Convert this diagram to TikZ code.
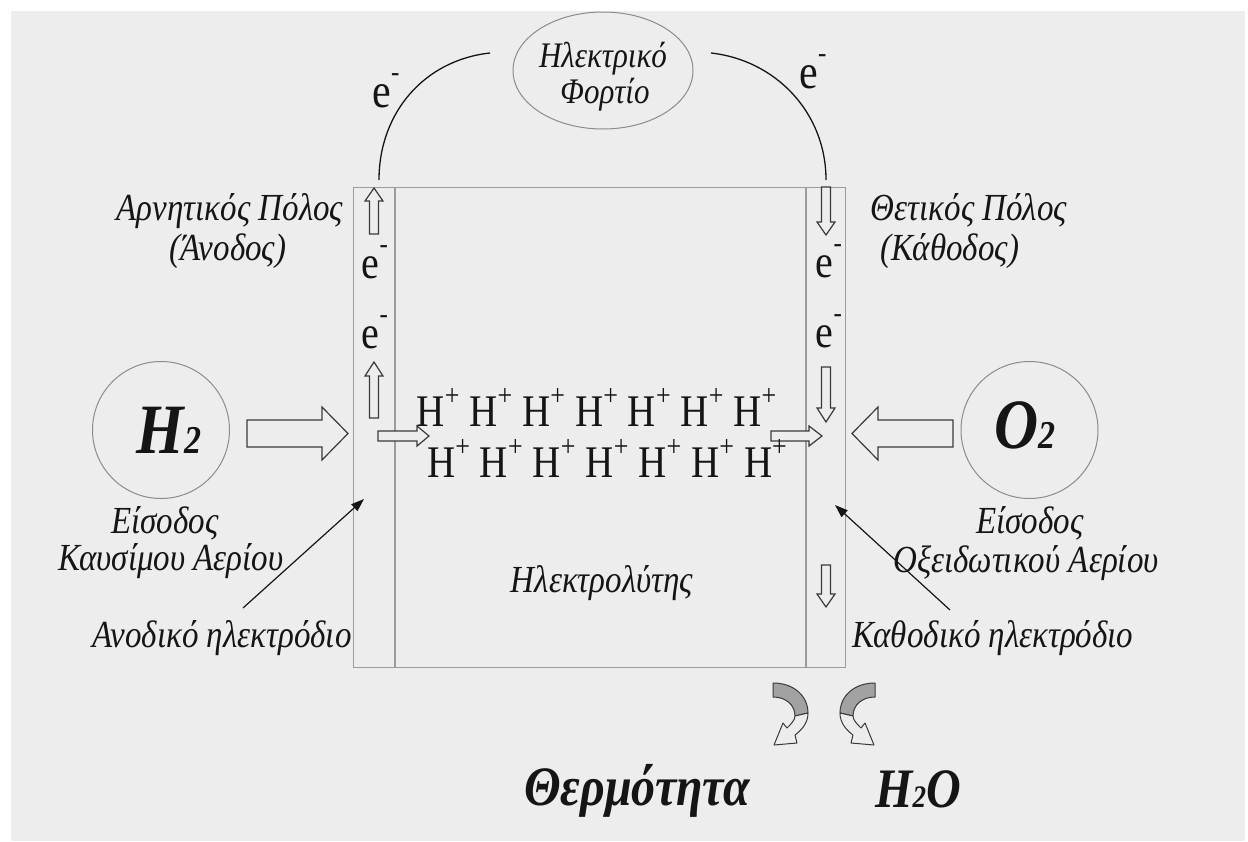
\documentclass[tikz,border=0pt]{standalone}
\usepackage{fontspec}
\setmainfont{Liberation Serif}
\usepackage{graphicx}
\usetikzlibrary{arrows.meta,shapes.geometric}
\definecolor{bg}{HTML}{EDEDED}
\definecolor{frame}{HTML}{9C9C9C}
\definecolor{ring}{HTML}{8C8C8C}
\definecolor{ink}{HTML}{151515}
\definecolor{arrline}{HTML}{3A3A3A}
\definecolor{curvegrey}{HTML}{A2A2A2}
\newcommand{\vst}[1]{\scalebox{1}[1.16]{#1}}
\newcommand{\Hp}{H\raisebox{18pt}{\fontsize{26}{26}\selectfont +}}
\newcommand{\Hrow}{\Hp\hspace{10pt}\Hp\hspace{10pt}\Hp\hspace{10pt}\Hp\hspace{10pt}\Hp\hspace{10pt}\Hp\hspace{10pt}\Hp}
\newcommand{\elec}[1]{e\raisebox{#1}{\fontsize{25}{25}\selectfont -}}
\tikzset{
  lbl/.style={font=\fontsize{33}{36}\selectfont\itshape, text=ink, inner sep=0pt, anchor=base},
  lblsmall/.style={font=\fontsize{31}{36}\selectfont\itshape, text=ink, inner sep=0pt, anchor=base},
  charge/.style={font=\fontsize{40}{44}\selectfont, text=ink, inner sep=0pt, anchor=base},
  ion/.style={font=\fontsize{39}{40}\selectfont, text=ink, inner sep=0pt, anchor=base},
  big/.style={text=ink, inner sep=0pt, anchor=base},
  arrowst/.style={draw=arrline, fill=bg, line width=1.2pt, line join=miter},
  wire/.style={draw=ink, line width=1.3pt},
  pointer/.style={draw=ink, line width=1.2pt, -{Triangle[length=13pt,width=9pt]}},
  pics/barr/.style n args={4}{code={
    \draw[arrowst] (0,-#2) -- ({#1-#4},-#2) -- ({#1-#4},-#3) -- (#1,0) -- ({#1-#4},#3) -- ({#1-#4},#2) -- (0,#2) -- cycle;
  }},
  pics/curvarr/.style={code={
    \draw[draw=arrline, fill=curvegrey, line width=1pt, line join=round]
      (773,683) .. controls (795,683) and (808,697) .. (808,713)
      -- (795,716) .. controls (795,705) and (786,697) .. (773,697) -- cycle;
    \draw[draw=arrline, fill=bg, line width=1pt, line join=round]
      (808,713) .. controls (808,722) and (803,729) .. (795,735)
      -- (797,743) -- (774,745) -- (783,723) -- (787,728)
      .. controls (791,724) and (795,720) .. (795,716) -- cycle;
  }}
}
\begin{document}
\begin{tikzpicture}[x=1pt,y=-1pt]
\useasboundingbox (0,0) rectangle (1248,841);
\fill[white] (0,0) rectangle (1248,841);
\fill[bg] (11,11) rectangle (1245,841);

% fuel cell body
\node[draw=frame, line width=1.3pt, minimum width=492pt, minimum height=480pt, anchor=north west, inner sep=0pt] (cell) at (353,187) {};
\draw[frame, line width=1.3pt] (395,187) coordinate (anT) -- (395,667) coordinate (anB);
\draw[frame, line width=1.3pt] (806,187) coordinate (caT) -- (806,667) coordinate (caB);

% load
\node[ellipse, draw=ring, line width=1pt, minimum width=180pt, minimum height=117pt, inner sep=0pt] (load) at (603,70.5) {};
\node[lblsmall] (load1) at (603,67) {\vst{Ηλεκτρικό}};
\node[lblsmall] (load2) at (605,103) {\vst{Φορτίο}};

% external circuit
\coordinate (wL) at (379,180);
\coordinate (wLe) at (490,53);
\coordinate (wRs) at (711,53);
\coordinate (wR) at (826,180);
\draw[wire] (wL) .. controls (379,112) and (425,60) .. (wLe);
\draw[wire] (wRs) .. controls (775,60) and (826,112) .. (wR);
\node[charge, font=\fontsize{42}{44}\selectfont] (eTL) at (386,107) {\vst{\elec{22pt}}};
\node[charge, font=\fontsize{42}{44}\selectfont] (eTR) at (813,88) {\vst{\elec{22pt}}};

% electrons in electrodes
\node[charge] (eL1) at (375,278) {\vst{\elec{21pt}}};
\node[charge] (eL2) at (375,348) {\vst{\elec{21pt}}};
\node[charge] (eR1) at (829,277) {\vst{\elec{21pt}}};
\node[charge] (eR2) at (829,347) {\vst{\elec{21pt}}};

\pic[rotate=90] at (374,234) {barr={46}{4.5}{9}{13}};
\pic[rotate=90] at (374,418) {barr={56}{4.5}{9}{14}};
\pic[rotate=-90] at (826,187) {barr={48}{4.5}{9}{13}};
\pic[rotate=-90] at (826,367) {barr={55}{4.5}{9}{14}};
\pic[rotate=-90] at (826,565) {barr={42}{4.5}{9}{13}};
\pic at (378,436) {barr={51}{5}{10}{12}};
\pic at (771,436) {barr={51}{5}{10}{13}};

% gases
\node[circle, draw=ring, line width=1pt, minimum size=137pt, inner sep=0pt] (h2c) at (161,430) {};
\node[circle, draw=ring, line width=1pt, minimum size=137pt, inner sep=0pt] (o2c) at (1029.5,430) {};
\node[big] (h2t) at (169,453) {\vst{\fontsize{61}{61}\selectfont\bfseries\itshape H\fontsize{34}{34}\selectfont 2}};
\node[big] (o2t) at (1025,448) {\vst{\fontsize{61}{61}\selectfont\bfseries\itshape O\fontsize{34}{34}\selectfont 2}};
\pic at (247,433.5) {barr={101}{13.5}{26.5}{26}};
\pic[rotate=180] at (953,433.5) {barr={101}{13.5}{26.5}{26}};

% protons
\node[ion] (hrow1) at (596.5,426) {\vst{\Hrow}};
\node[ion] (hrow2) at (607,477) {\vst{\Hrow}};

% labels
\node[lbl] (neg1) at (230,220) {\vst{Αρνητικός Πόλος}};
\node[lbl] (neg2) at (228,260) {\vst{(Άνοδος)}};
\node[lbl] (pos1) at (969,220) {\vst{Θετικός Πόλος}};
\node[lbl] (pos2) at (950,260) {\vst{(Κάθοδος)}};
\node[lbl] (fin1) at (165,533) {\vst{Είσοδος}};
\node[lbl] (fin2) at (171,570) {\vst{Καυσίμου Αερίου}};
\node[lbl] (oin1) at (1030,533) {\vst{Είσοδος}};
\node[lbl] (oin2) at (1026,572) {\vst{Οξειδωτικού Αερίου}};
\node[lbl] (anel) at (222,647) {\vst{Ανοδικό ηλεκτρόδιο}};
\node[lbl] (cael) at (993,647) {\vst{Καθοδικό ηλεκτρόδιο}};
\node[lbl] (elyt) at (602,592) {\vst{Ηλεκτρολύτης}};

% pointers
\coordinate (pA) at (243,608);
\coordinate (pAt) at (364,499);
\coordinate (pC) at (950,610);
\coordinate (pCt) at (835,505);
\draw[pointer] (pA) -- (pAt);
\draw[pointer] (pC) -- (pCt);

% products
\pic at (0,0) {curvarr};
\pic[xscale=-1] at (1648,0) {curvarr};
\node[big] (heat) at (637,805) {\vst{\fontsize{48}{48}\selectfont\bfseries\itshape Θερμότητα}};
\node[big] (water) at (918,807) {\vst{\fontsize{48}{48}\selectfont\bfseries\itshape H\fontsize{27}{27}\selectfont 2\fontsize{48}{48}\selectfont O}};
\end{tikzpicture}
\end{document}
